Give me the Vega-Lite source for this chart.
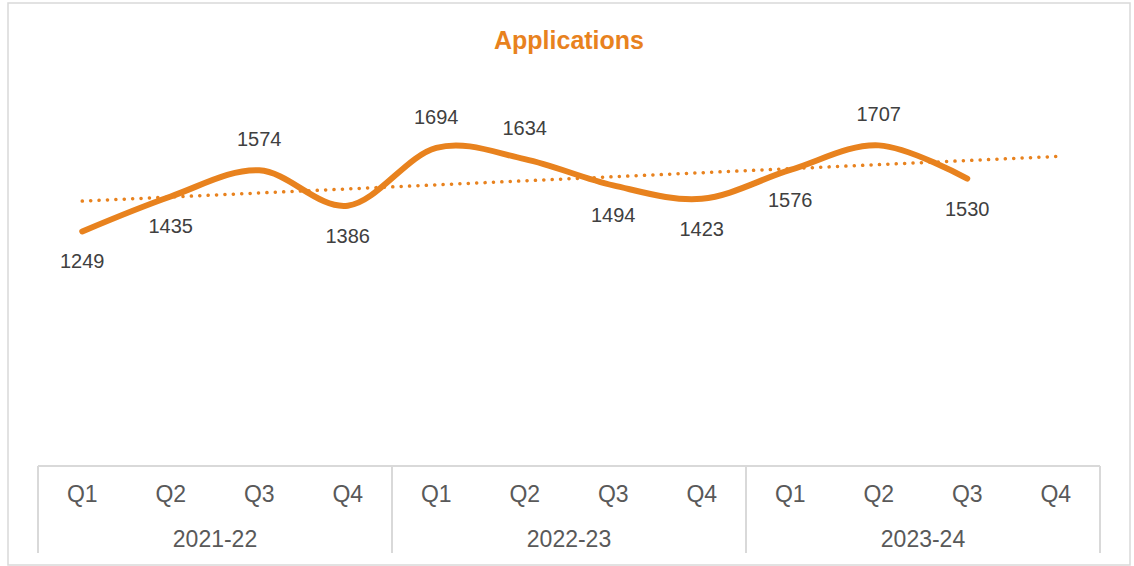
{
  "$schema": "https://vega.github.io/schema/vega-lite/v6.json",
  "width": 1122,
  "height": 562,
  "autosize": {"type": "none"},
  "padding": {"left": 8, "top": 3, "right": 4, "bottom": 1},
  "background": "white",
  "config": {"view": {"stroke": "#D9D9D9", "strokeWidth": 1.5}},
  "title": {
    "text": "Applications",
    "orient": "top",
    "anchor": "middle",
    "offset": -51,
    "font": "Liberation Sans, Arial, sans-serif",
    "fontWeight": "bold",
    "fontSize": 25,
    "color": "#E8821E"
  },
  "data": {
    "values": [
      {"idx": 1, "year": "2021-22", "q": "Q1", "value": 1249},
      {"idx": 2, "year": "2021-22", "q": "Q2", "value": 1435},
      {"idx": 3, "year": "2021-22", "q": "Q3", "value": 1574},
      {"idx": 4, "year": "2021-22", "q": "Q4", "value": 1386},
      {"idx": 5, "year": "2022-23", "q": "Q1", "value": 1694},
      {"idx": 6, "year": "2022-23", "q": "Q2", "value": 1634},
      {"idx": 7, "year": "2022-23", "q": "Q3", "value": 1494},
      {"idx": 8, "year": "2022-23", "q": "Q4", "value": 1423},
      {"idx": 9, "year": "2023-24", "q": "Q1", "value": 1576},
      {"idx": 10, "year": "2023-24", "q": "Q2", "value": 1707},
      {"idx": 11, "year": "2023-24", "q": "Q3", "value": 1530},
      {"idx": 12, "year": "2023-24", "q": "Q4", "value": null}
    ]
  },
  "encoding": {
    "x": {"field": "idx", "type": "quantitative", "scale": {"domain": [0.161, 12.839], "nice": false, "zero": false}, "axis": null}
  },
  "layer": [
    {
      "mark": {"type": "rule", "stroke": "#D9D9D9", "strokeWidth": 2},
      "encoding": {
        "x": {"datum": 0.5},
        "x2": {"datum": 12.5},
        "y": {"datum": 0, "type": "quantitative", "scale": {"domain": [-527, 2465], "nice": false, "zero": false}, "axis": null}
      }
    },
    {
      "transform": [
        {"aggregate": [{"op": "min", "field": "idx", "as": "first"}, {"op": "max", "field": "idx", "as": "last"}], "groupby": ["year"]},
        {"fold": ["first", "last"], "as": ["edge", "pos"]},
        {"calculate": "datum.edge === 'first' ? datum.pos - 0.5 : datum.pos + 0.5", "as": "sep"}
      ],
      "mark": {"type": "rule", "stroke": "#D9D9D9", "strokeWidth": 2},
      "encoding": {
        "x": {"field": "sep", "type": "quantitative"},
        "y": {"datum": 0, "type": "quantitative"},
        "y2": {"datum": -463}
      }
    },
    {
      "mark": {"type": "text", "font": "Liberation Sans, Arial, sans-serif", "fontSize": 23, "color": "#595959", "baseline": "middle", "align": "center"},
      "encoding": {
        "y": {"datum": -154, "type": "quantitative"},
        "text": {"field": "q"}
      }
    },
    {
      "transform": [
        {"aggregate": [{"op": "mean", "field": "idx", "as": "mid"}], "groupby": ["year"]}
      ],
      "mark": {"type": "text", "font": "Liberation Sans, Arial, sans-serif", "fontSize": 23, "color": "#595959", "baseline": "middle", "align": "center"},
      "encoding": {
        "x": {"field": "mid", "type": "quantitative"},
        "y": {"datum": -394, "type": "quantitative"},
        "text": {"field": "year"}
      }
    },
    {
      "transform": [
        {"filter": "datum.value != null"},
        {"regression": "value", "on": "idx", "extent": [1, 12]}
      ],
      "mark": {"type": "line", "stroke": "#E8821E", "strokeWidth": 3.5, "strokeDash": [0.1, 8.3], "strokeCap": "round"},
      "encoding": {
        "y": {"field": "value", "type": "quantitative"}
      }
    },
    {
      "transform": [{"filter": "datum.value != null"}],
      "mark": {"type": "line", "stroke": "#E8821E", "strokeWidth": 6, "interpolate": "cardinal", "strokeCap": "round"},
      "encoding": {
        "y": {"field": "value", "type": "quantitative"}
      }
    },
    {
      "transform": [{"filter": {"field": "idx", "oneOf": [3, 5, 6, 10]}}],
      "mark": {"type": "text", "font": "Liberation Sans, Arial, sans-serif", "fontSize": 20, "color": "#404040", "baseline": "middle", "align": "center", "dy": -30},
      "encoding": {
        "y": {"field": "value", "type": "quantitative"},
        "text": {"field": "value", "type": "quantitative", "format": "d"}
      }
    },
    {
      "transform": [{"filter": {"field": "idx", "oneOf": [1, 2, 4, 7, 8, 9, 11]}}],
      "mark": {"type": "text", "font": "Liberation Sans, Arial, sans-serif", "fontSize": 20, "color": "#404040", "baseline": "middle", "align": "center", "dy": 31},
      "encoding": {
        "y": {"field": "value", "type": "quantitative"},
        "text": {"field": "value", "type": "quantitative", "format": "d"}
      }
    }
  ]
}
